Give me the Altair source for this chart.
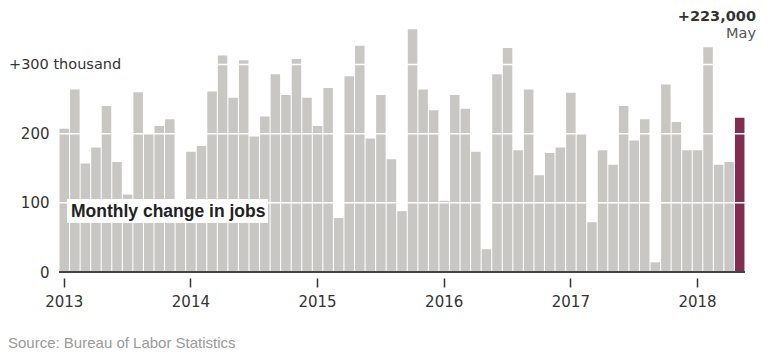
import altair as alt
import pandas as pd

# ---- data (thousands of jobs, monthly change) ----
years = [2013, 2014, 2015, 2016, 2017, 2018]
jobs_2013 = [207, 264, 157, 180, 240, 159, 112, 260, 201, 211, 221, 84]
jobs_2014 = [174, 182, 261, 313, 252, 306, 196, 225, 286, 256, 308, 252]
jobs_2015 = [211, 266, 78, 283, 327, 193, 256, 163, 88, 351, 264, 234]
jobs_2016 = [103, 256, 236, 174, 33, 286, 324, 176, 264, 140, 172, 180]
jobs_2017 = [259, 201, 72, 176, 155, 240, 190, 221, 14, 271, 217, 176]
jobs_2018 = [176, 325, 155, 159, 223]
series = [jobs_2013, jobs_2014, jobs_2015, jobs_2016, jobs_2017, jobs_2018]

y_ticks = [0, 100, 200, 300]
grid_values = [100, 200, 300]
highlight_label = "+223,000"
highlight_month = "May"
title_text = "Monthly change in jobs"
top_label = "+300 thousand"
source_text = "Source: Bureau of Labor Statistics"

rows = []
for yr, vals in zip(years, series):
    for i, v in enumerate(vals):
        rows.append({"month": f"{yr}-{i + 1:02d}", "jobs": v})
rows[-1]["hl"] = "yes"
df = pd.DataFrame(rows)
df["hl"] = df["hl"].fillna("no")
jan_keys = [f"{yr}-01" for yr in years]

GRAY = "#c9c7c3"
MAROON = "#7f2d51"
DARK = "#333333"
NUM_FONT = "DejaVu Sans"
TXT_FONT = "Liberation Sans"

x_enc = alt.X(
    "month:O",
    sort=None,
    scale=alt.Scale(paddingInner=0.1, paddingOuter=0.05),
    axis=alt.Axis(
        values=jan_keys,
        labelExpr="substring(datum.value, 0, 4)",
        title=None,
        domain=False,
        grid=False,
        tickSize=9,
        tickWidth=1.5,
        tickColor=DARK,
        offset=6,
        labelPadding=7,
        labelAngle=0,
        labelFont=NUM_FONT,
        labelFontSize=15,
        labelColor=DARK,
        bandPosition=0.5,
    ),
)
y_scale = alt.Scale(domain=[0, 360], nice=False)
y_enc = alt.Y(
    "jobs:Q",
    scale=y_scale,
    axis=alt.Axis(
        values=y_ticks,
        labelExpr="datum.value == 300 ? '' : datum.label",
        title=None,
        domain=False,
        ticks=False,
        grid=False,
        labelPadding=10,
        labelFont=NUM_FONT,
        labelFontSize=15,
        labelColor=DARK,
    ),
)

bars = alt.Chart(df).mark_bar().encode(
    x=x_enc,
    y=y_enc,
    color=alt.Color("hl:N", scale=alt.Scale(domain=["no", "yes"], range=[GRAY, MAROON]), legend=None),
)

grid = alt.Chart(pd.DataFrame({"g": grid_values})).mark_rule(color="white", strokeWidth=1.5).encode(
    y=alt.Y("g:Q", scale=y_scale)
)

one = pd.DataFrame({"t": [""]})

baseline = alt.Chart(one).mark_rule(color="#444444", strokeWidth=2).encode(y=alt.datum(0))

box = alt.Chart(one).mark_rect(color="white").encode(
    x=alt.value(8), x2=alt.value(209), y=alt.value(176), y2=alt.value(200)
)
box_text = alt.Chart(pd.DataFrame({"t": [title_text]})).mark_text(
    align="left", baseline="middle", font=TXT_FONT, fontSize=17.5, fontWeight="bold", color="#222222"
).encode(x=alt.value(12), y=alt.value(188.5), text="t:N")

top_text = alt.Chart(pd.DataFrame({"t": [top_label]})).mark_text(
    align="left", baseline="middle", font=NUM_FONT, fontSize=14.5, color=DARK
).encode(x=alt.value(-50), y=alt.datum(300), text="t:N")

hl_text = alt.Chart(pd.DataFrame({"t": [highlight_label]})).mark_text(
    align="right", baseline="middle", font=NUM_FONT, fontSize=14.5, fontWeight="bold", color=DARK
).encode(x=alt.value(697), y=alt.value(-6), text="t:N")

may_text = alt.Chart(pd.DataFrame({"t": [highlight_month]})).mark_text(
    align="right", baseline="middle", font=NUM_FONT, fontSize=14.5, color="#555555"
).encode(x=alt.value(697), y=alt.value(10.5), text="t:N")

src_text = alt.Chart(pd.DataFrame({"t": [source_text]})).mark_text(
    align="left", baseline="middle", font=TXT_FONT, fontSize=15, color="#9a9a9a"
).encode(x=alt.value(-51), y=alt.value(320), text="t:N")

chart = alt.layer(
    bars, grid, baseline, box, box_text, top_text, hl_text, may_text, src_text
).properties(
    width=686,
    height=249,
    autosize=alt.AutoSizeParams(type="none"),
    padding={"left": 51, "top": 15, "right": 14, "bottom": 78},
).configure_view(stroke=None)

chart.save("out.html", embed_options={"renderer": "svg", "actions": False})
